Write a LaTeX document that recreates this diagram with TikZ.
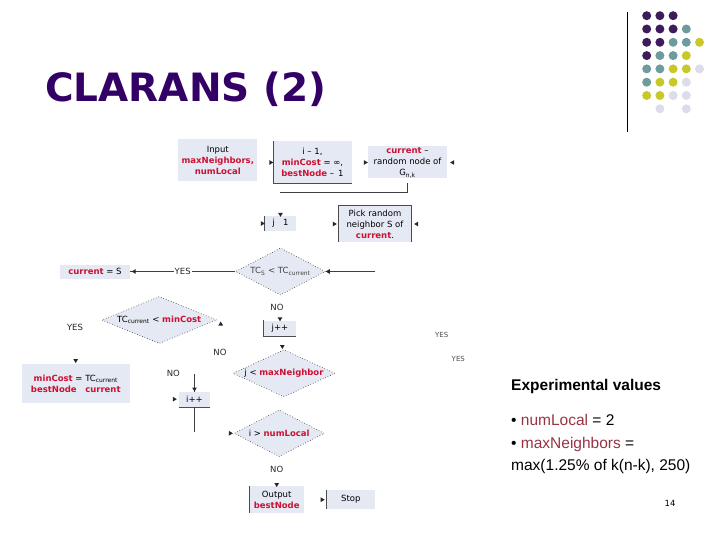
\documentclass[tikz,border=0pt]{standalone}
\usepackage{fontspec}
\setmainfont{DejaVu Sans}
\newfontfamily\arialf{Liberation Sans}
\usetikzlibrary{shapes.geometric}
\definecolor{titlec}{HTML}{330066}
\definecolor{boxc}{HTML}{E4E9F4}
\definecolor{redc}{HTML}{CC1133}
\definecolor{darkred}{HTML}{993344}
\definecolor{dotP}{HTML}{3D1C5C}
\definecolor{dotT}{HTML}{6E9B9E}
\definecolor{dotY}{HTML}{C9C82A}
\definecolor{dotL}{HTML}{DCDCEA}
\newcommand{\fs}{\fontsize{8.5}{11}\selectfont}
\newcommand{\rb}[1]{\textcolor{redc}{\textbf{#1}}}
\begin{document}
\begin{tikzpicture}[x=1pt,y=-1pt,
  fb/.style={fill=boxc, inner sep=0pt, align=center, font=\fs, text=black},
  dm/.style={diamond, fill=boxc, draw=black!75, dash pattern=on 0.7pt off 2pt, line width=0.6pt, inner sep=0pt, align=center, font=\fs},
  bord/.style={draw=black!70, line width=0.8pt},
  ln/.style={draw=black!75, line width=0.6pt},
  tip/.pic={\fill[black!85] (0,0) -- (-4,2.4) -- (-4,-2.4) -- cycle;},
  lab/.style={font=\fs, text=black!85, inner sep=1pt},
  dot/.style={circle, inner sep=0pt, minimum size=9pt}
]
\useasboundingbox (0,0) rectangle (720,540);

% title
\node[anchor=base west, inner sep=0pt, text=titlec, font=\fontsize{39}{39}\selectfont\bfseries] (title) at (45,102) {CLARANS (2)};

% decoration
\draw[black, line width=1pt] (627,12) -- (627,132);
\foreach \r/\list in {0/{P,P,P}, 1/{P,P,P,T}, 2/{P,P,T,T,Y}, 3/{P,T,T,Y}, 4/{T,T,Y,Y,L}, 5/{T,Y,Y,L}, 6/{Y,Y,L,L}}{
  \foreach \col [count=\c from 0] in \list {
    \fill[dot\col] (646.7+13.2*\c, 15.7+13.3*\r) circle (4.5);
  }
}
\fill[dotL] (646.7+13.2, 15.7+13.3*7) circle (4.5);
\fill[dotL] (646.7+13.2*3, 15.7+13.3*7) circle (4.5);

% flowchart boxes
\node[fb, minimum width=79, minimum height=42] (input) at (217.8,160.5) {Input\\\rb{maxNeighbors,}\\\rb{numLocal}};
\node[fb, minimum width=78, minimum height=42] (init) at (312.5,162.5) {i -- 1,\\\rb{minCost} = ∞,\\\rb{bestNode} --\, 1};
\draw[bord] (init.north west) -- (init.south west) -- (init.south east);
\node[fb, minimum width=79, minimum height=32] (cur) at (407.5,162.5) {\rb{current} --\\random node of\\G\textsubscript{n,k}};
\coordinate (c1) at (280,192);
\coordinate (c2) at (407,192);
\coordinate (c3) at (407,183);
\draw[ln] (c1) -- (c2) -- (c3);
\pic at (init.west) {tip};
\pic at (cur.west) {tip};
\pic[rotate=180] at ([xshift=3]cur.east) {tip};

\node[fb, minimum width=31, minimum height=15] (j1) at (280.5,223.5) {j\quad 1};
\draw[bord] (j1.north west) -- (j1.south west);
\pic[rotate=-90] at ([yshift=-1]j1.north) {tip};
\pic at (j1.west) {tip};

\node[fb, minimum width=72, minimum height=36] (pick) at (375,224) {Pick random\\neighbor S of\\\rb{current}.};
\draw[bord] (pick.south west) -- (pick.north west) -- (pick.north east) -- (pick.south east);
\pic at ([xshift=-2]pick.west) {tip};
\pic[rotate=180] at ([xshift=3]pick.east) {tip};

% diamond 1
\node[dm, minimum width=90, minimum height=47, aspect=1.9] (d1) at (280.5,271.5) {\textcolor{black!75}{TC\textsubscript{S} < TC\textsubscript{current}}};
\coordinate (d1in) at (375,271.5);
\draw[ln] (d1in) -- (d1.east);
\pic[rotate=180] at (d1.east) {tip};
\node[fb, minimum width=70, minimum height=14] (cs) at (95,271.5) {\rb{current} = S};
\draw[ln] (d1.west) -- node[lab, fill=white] {YES} (d1.west -| cs.east);
\pic[rotate=180] at ([xshift=1.5]cs.east) {tip};

\node[lab] (no1) at (277,307) {NO};
\node[fb, minimum width=32, minimum height=16] (jpp) at (280,328.5) {j++};
\draw[bord] (jpp.north west) -- (jpp.south west) -- (jpp.south east);
\pic[rotate=-90] at ([yshift=-1]jpp.north) {tip};

% diamond 2
\node[dm, minimum width=115, minimum height=47, aspect=2.4] (d2) at (159.2,320) {TC\textsubscript{current} < \rb{minCost}};
\pic[rotate=90] at (220.7,321.5) {tip};
\node[lab] (yes2) at (75,327) {YES};
\node[lab] (no2) at (220,352) {NO};

\pic[rotate=-90] at (282.3,349) {tip};
\node[dm, minimum width=102, minimum height=47, aspect=2.2] (d3) at (284,373.3) {j < \rb{maxNeighbor}};

\pic[rotate=-90] at (75.7,363) {tip};
\node[fb, minimum width=108, minimum height=39] (mc) at (75.8,383.7) {\rb{minCost} = TC\textsubscript{current}\\\rb{bestNode}\quad\rb{current}};

\node[lab] (no3) at (173.3,373.3) {NO};
\coordinate (c5) at (194.5,374);
\node[fb, minimum width=31, minimum height=15] (ipp) at (194.5,399.2) {i++};
\draw[bord] (ipp.south west) -- (ipp.south east);
\draw[ln] (c5) -- (ipp.north);
\pic[rotate=-90] at (ipp.north) {tip};
\pic at ([xshift=-2]ipp.west) {tip};
\coordinate (c6) at (194.5,432);
\draw[ln] (ipp.south) -- (c6);

% diamond 4
\node[dm, minimum width=90, minimum height=46.7, aspect=1.9] (d4) at (279.2,433.3) {i > \rb{numLocal}};
\pic at ([xshift=-1]d4.west) {tip};
\node[lab] (no4) at (276.7,469.3) {NO};
\node[fb, minimum width=55, minimum height=27] (out) at (276.7,499.7) {Output\\\rb{bestNode}};
\draw[bord] (out.north west) -- (out.south west);
\pic[rotate=-90] at ([yshift=-1]out.north) {tip};
\node[fb, minimum width=48, minimum height=19] (stop) at (350.8,499.7) {Stop};
\draw[bord] (stop.north west) -- (stop.south west);
\pic at ([xshift=-2]stop.west) {tip};

\node[lab, font=\fontsize{7}{8}\selectfont, text=black!70] (yes5) at (441.7,335) {YES};
\node[lab, font=\fontsize{7}{8}\selectfont, text=black!70] (yes6) at (458.3,359.3) {YES};

% right text
\node[anchor=base west, inner sep=0pt, font=\arialf\fontsize{15.5}{18}\selectfont\bfseries] (exp) at (511,390) {Experimental values};
\node[anchor=base west, inner sep=0pt, font=\arialf\fontsize{15.5}{18}\selectfont] (b1) at (511,425) {• \textcolor{darkred}{numLocal} = 2};
\node[anchor=base west, inner sep=0pt, font=\arialf\fontsize{15.5}{18}\selectfont] (b2) at (511,448) {• \textcolor{darkred}{maxNeighbors} =};
\node[anchor=base west, inner sep=0pt, font=\arialf\fontsize{15.5}{18}\selectfont] (b3) at (511,470) {max(1.25\% of k(n-k), 250)};
\node[inner sep=0pt, font=\fontsize{8.5}{10}\selectfont] (pg) at (670,503.5) {14};
\end{tikzpicture}
\end{document}
